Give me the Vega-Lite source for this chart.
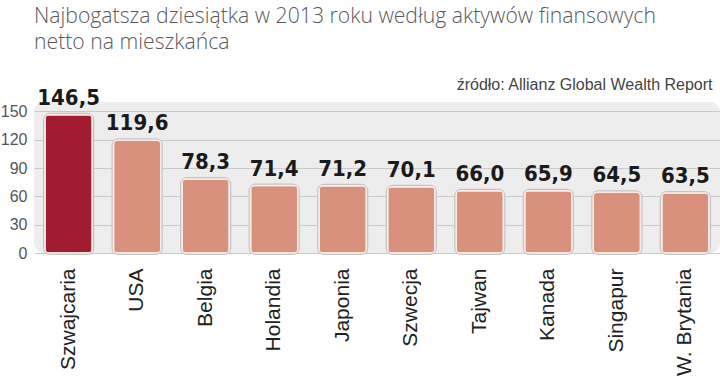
{
  "$schema": "https://vega.github.io/schema/vega-lite/v6.json",
  "width": 686,
  "height": 151,
  "autosize": {"type": "none"},
  "padding": {"left": 34, "top": 102, "right": 0, "bottom": 125},
  "background": "white",
  "config": {
    "view": {"fill": "#ededed", "stroke": null, "cornerRadius": 10},
    "font": "Liberation Sans",
    "locale": {"number": {"decimal": ",", "thousands": " ", "grouping": [3], "currency": ["", " zł"]}},
    "axisY": {"labelOverlap": false, "labelFontSize": 16, "labelColor": "#555555", "labelPadding": 7,
      "ticks": false, "domain": false, "gridColor": "#cacaca", "gridWidth": 1}
  },
  "title": {
    "text": ["Najbogatsza dziesiątka w 2013 roku według aktywów finansowych", "netto na mieszkańca"],
    "anchor": "start",
    "frame": "group",
    "font": "Open Sans",
    "fontSize": 21.2,
    "fontWeight": 300,
    "color": "#5a5a5a",
    "lineHeight": 26,
    "baseline": "alphabetic",
    "offset": 6
  },
  "data": {
    "values": [
      {"kraj": "Szwajcaria", "wartosc": 146.5, "grupa": "lider"},
      {"kraj": "USA", "wartosc": 119.6, "grupa": "pozostałe"},
      {"kraj": "Belgia", "wartosc": 78.3, "grupa": "pozostałe"},
      {"kraj": "Holandia", "wartosc": 71.4, "grupa": "pozostałe"},
      {"kraj": "Japonia", "wartosc": 71.2, "grupa": "pozostałe"},
      {"kraj": "Szwecja", "wartosc": 70.1, "grupa": "pozostałe"},
      {"kraj": "Tajwan", "wartosc": 66.0, "grupa": "pozostałe"},
      {"kraj": "Kanada", "wartosc": 65.9, "grupa": "pozostałe"},
      {"kraj": "Singapur", "wartosc": 64.5, "grupa": "pozostałe"},
      {"kraj": "W. Brytania", "wartosc": 63.5, "grupa": "pozostałe"}
    ]
  },
  "resolve": {"axis": {"x": "independent"}},
  "layer": [
    {
      "mark": {"type": "bar", "cornerRadius": 5, "stroke": "#c4c4c4", "strokeWidth": 4, "fill": "#c4c4c4"},
      "encoding": {
        "x": {"field": "kraj", "type": "nominal", "sort": null,
          "scale": {"paddingInner": 0.31, "paddingOuter": 0.16},
          "axis": {"labelAngle": -90, "labelAlign": "right", "labelBaseline": "middle", "labelFontSize": 21,
            "labelColor": "#222222", "labelPadding": 15, "ticks": false, "domain": false, "title": null, "grid": false}},
        "y": {"field": "wartosc", "type": "quantitative", "scale": {"domain": [0, 150]}, "title": null,
          "axis": {"values": [0, 30, 60, 90, 120, 150]}}
      }
    },
    {
      "mark": {"type": "bar", "cornerRadius": 4, "stroke": "#fbeee8", "strokeWidth": 1.5},
      "encoding": {
        "x": {"field": "kraj", "type": "nominal", "sort": null, "axis": null},
        "y": {"field": "wartosc", "type": "quantitative", "title": null, "axis": {"values": [0, 30, 60, 90, 120, 150]}},
        "color": {"field": "grupa", "type": "nominal",
          "scale": {"domain": ["lider", "pozostałe"], "range": ["#a11c31", "#d9917e"]}, "legend": null}
      }
    },
    {
      "mark": {"type": "text", "baseline": "alphabetic", "dy": -10, "font": "DejaVu Sans Condensed", "fontWeight": "bold", "fontSize": 22, "color": "#1a1a1a"},
      "encoding": {
        "x": {"field": "kraj", "type": "nominal", "sort": null,
          "axis": {"orient": "top", "labels": false, "ticks": false, "domain": false, "grid": false,
            "title": "źródło: Allianz Global Wealth Report", "titleX": 678, "titleAlign": "right", "titleAnchor": "end",
            "titleFontSize": 16, "titleFontWeight": "normal", "titleColor": "#444444", "titlePadding": 10}},
        "y": {"field": "wartosc", "type": "quantitative", "title": null, "axis": {"values": [0, 30, 60, 90, 120, 150]}},
        "text": {"field": "wartosc", "type": "quantitative", "format": ".1f"}
      }
    }
  ]
}
